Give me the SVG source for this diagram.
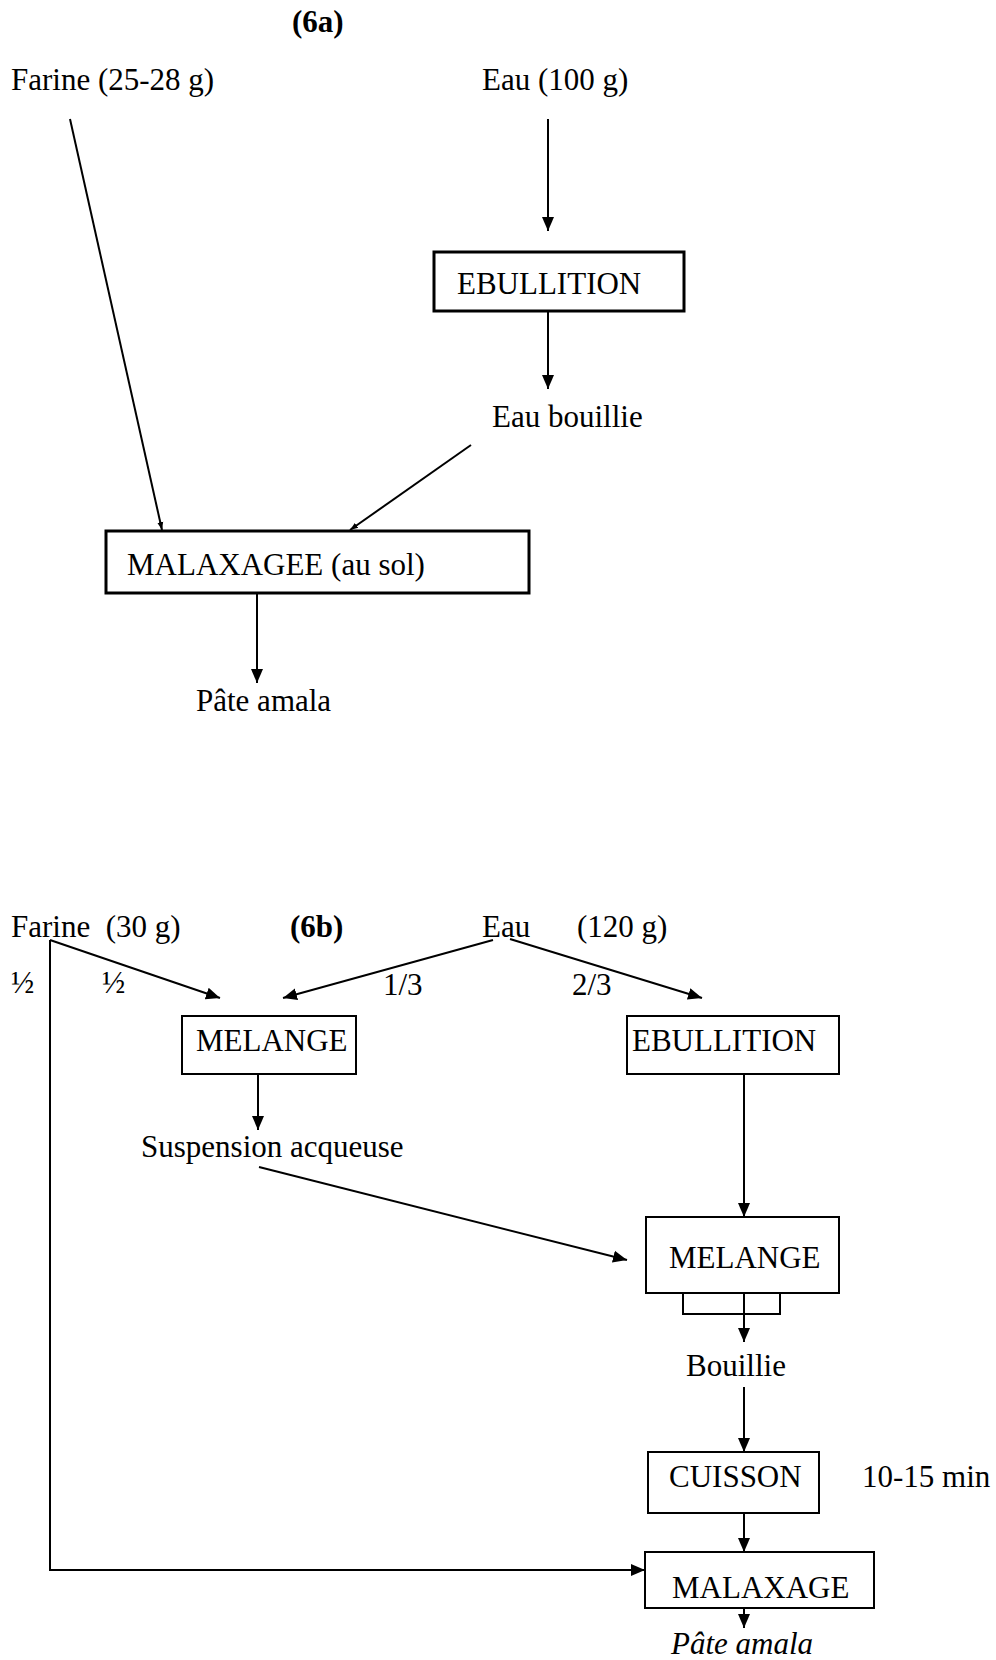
<svg xmlns="http://www.w3.org/2000/svg" width="996" height="1660" viewBox="0 0 996 1660">
<defs>
<style>
text{font-family:"Liberation Serif","Times New Roman",serif;font-size:31px;fill:#000}
.b{font-weight:bold}
.it{font-style:italic}
.box{fill:#fff;stroke:#000;stroke-width:2}
.box3{fill:#fff;stroke:#000;stroke-width:3}
.ln{fill:none;stroke:#000;stroke-width:2}
</style>
<marker id="ah" markerUnits="userSpaceOnUse" markerWidth="14" markerHeight="14" refX="14" refY="7" orient="auto" viewBox="0 0 14 14">
<path d="M0,1 L14,7 L0,13 z" fill="#000"/>
</marker>
<marker id="as" markerUnits="userSpaceOnUse" markerWidth="8" markerHeight="8" refX="8" refY="4" orient="auto" viewBox="0 0 8 8">
<path d="M0,1 L8,4 L0,7 z" fill="#000"/>
</marker>
</defs>
<rect width="996" height="1660" fill="#fff"/>

<g id="connectors">
<!-- 6a -->
<line class="ln" x1="548" y1="119" x2="548" y2="231" marker-end="url(#ah)"/>
<line class="ln" x1="548" y1="311" x2="548" y2="389" marker-end="url(#ah)"/>
<line class="ln" x1="70" y1="119" x2="162" y2="530" marker-end="url(#as)"/>
<line class="ln" x1="471" y1="445" x2="350" y2="530" marker-end="url(#as)"/>
<line class="ln" x1="257" y1="593" x2="257" y2="683" marker-end="url(#ah)"/>
<!-- 6b -->
<line class="ln" x1="50" y1="940" x2="220" y2="998" marker-end="url(#ah)"/>
<polyline class="ln" points="50,940 50,1570 645,1570" marker-end="url(#ah)"/>
<line class="ln" x1="493" y1="940" x2="283" y2="998" marker-end="url(#ah)"/>
<line class="ln" x1="510" y1="939" x2="702" y2="998" marker-end="url(#ah)"/>
<line class="ln" x1="258" y1="1074" x2="258" y2="1130" marker-end="url(#ah)"/>
<line class="ln" x1="259" y1="1167" x2="627" y2="1260" marker-end="url(#ah)"/>
<line class="ln" x1="744" y1="1074" x2="744" y2="1217" marker-end="url(#ah)"/>
<line class="ln" x1="744" y1="1293" x2="744" y2="1342" marker-end="url(#ah)"/>
<line class="ln" x1="744" y1="1387" x2="744" y2="1452" marker-end="url(#ah)"/>
<line class="ln" x1="744" y1="1513" x2="744" y2="1552" marker-end="url(#ah)"/>
<line class="ln" x1="744" y1="1608" x2="744" y2="1628" marker-end="url(#ah)"/>
</g>

<!-- 6a nodes -->
<g id="title-6a"><text class="b" x="292" y="32">(6a)</text></g>
<g id="farine-6a"><text x="11" y="90">Farine (25-28 g)</text></g>
<g id="eau-6a"><text x="482" y="90">Eau (100 g)</text></g>
<g id="ebullition-6a"><rect class="box3" x="434" y="252" width="250" height="59"/><text x="457" y="294">EBULLITION</text></g>
<g id="eau-bouillie"><text x="492" y="427">Eau bouillie</text></g>
<g id="malaxagee"><rect class="box3" x="106" y="531" width="423" height="62"/><text x="127" y="575">MALAXAGEE (au sol)</text></g>
<g id="pate-6a"><text x="196" y="711">Pâte amala</text></g>

<!-- 6b nodes -->
<g id="farine-6b"><text x="11" y="937" xml:space="preserve">Farine  (30 g)</text></g>
<g id="title-6b"><text class="b" x="290" y="937">(6b)</text></g>
<g id="eau-6b"><text x="482" y="937">Eau</text><text x="577" y="937">(120 g)</text></g>
<g id="labels-fractions">
<text x="11" y="993">½</text>
<text x="102" y="993">½</text>
<text x="383" y="995">1/3</text>
<text x="572" y="995">2/3</text>
</g>
<g id="melange-1"><rect class="box" x="182" y="1016" width="174" height="58"/><text x="196" y="1051">MELANGE</text></g>
<g id="ebullition-6b"><rect class="box" x="627" y="1016" width="212" height="58"/><text x="632" y="1051">EBULLITION</text></g>
<g id="suspension"><text x="141" y="1157">Suspension acqueuse</text></g>
<g id="melange-2"><rect class="box" x="646" y="1217" width="193" height="76"/><text x="669" y="1268">MELANGE</text><polyline class="ln" points="683,1293 683,1314 780,1314 780,1293"/></g>
<g id="bouillie"><text x="686" y="1376">Bouillie</text></g>
<g id="cuisson"><rect class="box" x="648" y="1452" width="171" height="61"/><text x="669" y="1487">CUISSON</text><text x="862" y="1487">10-15 min</text></g>
<g id="malaxage"><rect class="box" x="645" y="1552" width="229" height="56"/><text x="672" y="1598">MALAXAGE</text></g>
<g id="pate-6b"><text class="it" x="671" y="1654">Pâte amala</text></g>
</svg>
